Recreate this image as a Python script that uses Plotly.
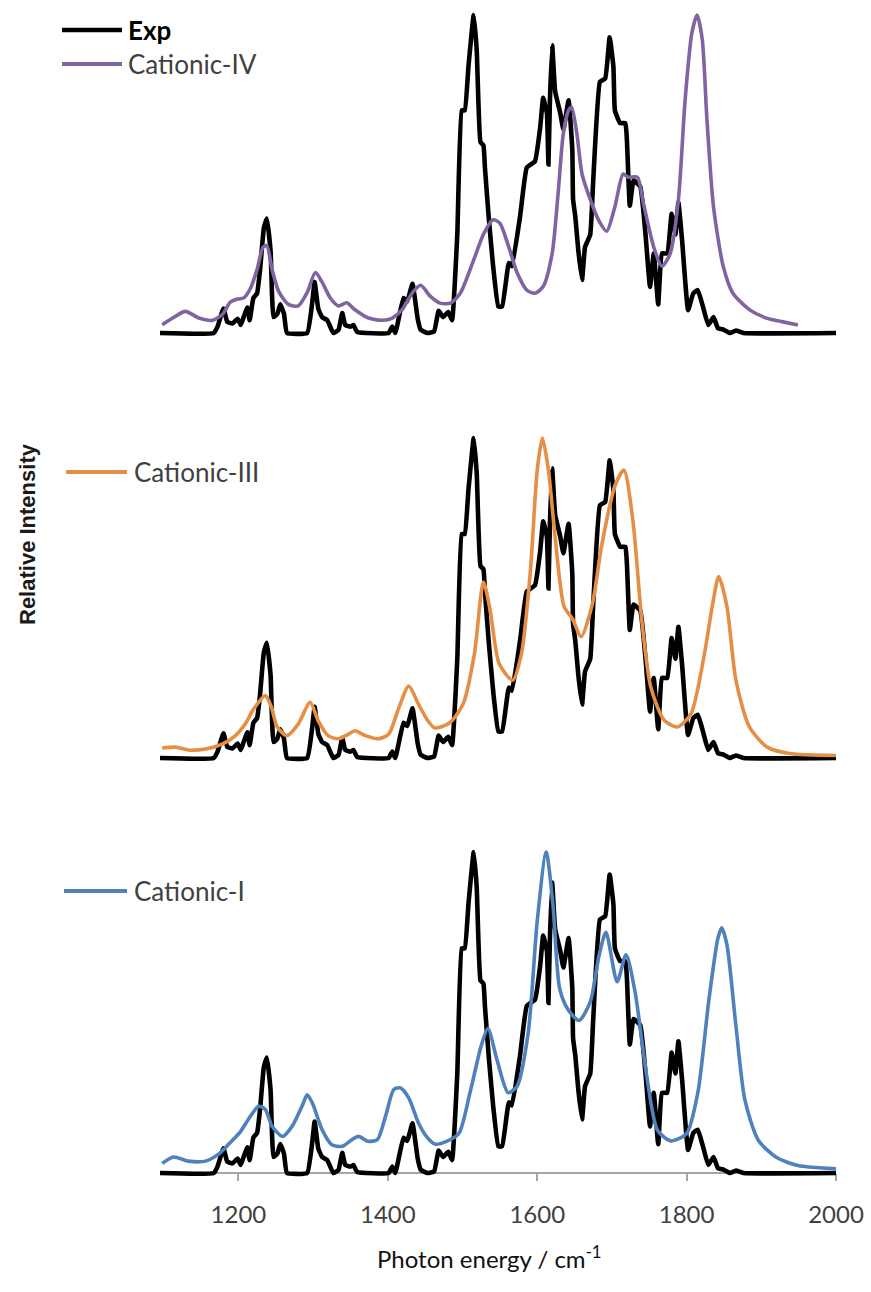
import plotly.graph_objects as go

# ---------------- data ----------------
exp_x = [1095, 1167, 1172, 1180, 1185, 1192, 1199, 1203, 1207, 1212, 1215, 1220, 1225, 1229,
         1234, 1238, 1243, 1247, 1252, 1256, 1261, 1265, 1292, 1299, 1302, 1307, 1312, 1319,
         1327, 1334, 1339, 1343, 1350, 1354, 1359, 1401, 1406, 1410, 1421, 1426, 1433, 1440,
         1444, 1453, 1462, 1468, 1474, 1481, 1486, 1493, 1499, 1503, 1508, 1515, 1519, 1524,
         1528, 1530, 1535, 1541, 1548, 1553, 1562, 1566, 1577, 1586, 1597, 1604, 1608, 1613,
         1615, 1617, 1620, 1624, 1631, 1635, 1642, 1647, 1648, 1651, 1655, 1660, 1664, 1671,
         1675, 1684, 1691, 1697, 1702, 1704, 1711, 1718, 1720, 1724, 1729, 1738, 1745, 1751,
         1756, 1762, 1767, 1774, 1780, 1785, 1789, 1794, 1802, 1809, 1815, 1822, 1829, 1836,
         1842, 1850, 1858, 1866, 1876, 2000]
exp_y = [0, 0, 0.02, 0.077, 0.035, 0.03, 0.045, 0.025, 0.05, 0.08, 0.04, 0.11, 0.125, 0.2,
         0.33, 0.36, 0.26, 0.05, 0.06, 0.09, 0.06, 0.0, 0, 0.1, 0.16, 0.075, 0.05, 0.04,
         0, 0.01, 0.063, 0.025, 0.02, 0.025, 0.003, 0, 0.02, 0, 0.11, 0.10, 0.155, 0.045,
         0.01, 0, 0.005, 0.07, 0.05, 0.066, 0.04, 0.31, 0.70, 0.70, 0.84, 1.0, 0.89, 0.60,
         0.59, 0.52, 0.366, 0.21, 0.083, 0.083, 0.22, 0.21, 0.366, 0.52, 0.54, 0.647, 0.74, 0.69,
         0.53, 0.73, 0.905, 0.76, 0.69, 0.64, 0.732, 0.575, 0.42, 0.366, 0.26, 0.167, 0.27, 0.31,
         0.48, 0.79, 0.80, 0.93, 0.837, 0.70, 0.66, 0.66, 0.61, 0.40, 0.48, 0.46, 0.31, 0.145,
         0.25, 0.09, 0.25, 0.25, 0.375, 0.31, 0.41, 0.29, 0.072, 0.125, 0.135, 0.082, 0.025, 0.05,
         0.015, 0.01, 0.0, 0.008, 0, 0]

c4_x = [1098, 1112, 1129, 1147, 1165, 1179, 1189, 1199, 1207, 1216, 1225, 1233, 1238, 1245,
        1254, 1267, 1280, 1292, 1303, 1312, 1323, 1334, 1345, 1356, 1374, 1393, 1406, 1419,
        1433, 1444, 1457, 1470, 1484, 1497, 1515, 1528, 1541, 1550, 1562, 1573, 1586, 1597,
        1608, 1620, 1628, 1635, 1642, 1646, 1653, 1660, 1671, 1682, 1693, 1704, 1715, 1722,
        1734, 1742, 1756, 1767, 1778, 1789, 1798, 1807, 1814, 1821, 1827, 1836, 1849, 1862,
        1885, 1908, 1929, 1949]
c4_y = [0.026, 0.047, 0.068, 0.047, 0.04, 0.06, 0.097, 0.107, 0.11, 0.14, 0.2, 0.27, 0.275, 0.2,
        0.13, 0.09, 0.085, 0.127, 0.19, 0.16, 0.11, 0.085, 0.095, 0.073, 0.047, 0.04, 0.047, 0.073,
        0.127, 0.15, 0.115, 0.094, 0.094, 0.125, 0.23, 0.31, 0.356, 0.345, 0.27, 0.19, 0.135, 0.125,
        0.146, 0.25, 0.44, 0.628, 0.70, 0.71, 0.628, 0.50, 0.42, 0.356, 0.32, 0.397, 0.50, 0.49,
        0.49, 0.41, 0.27, 0.21, 0.25, 0.418, 0.733, 0.943, 1.0, 0.922, 0.68, 0.397, 0.21, 0.125,
        0.072, 0.046, 0.035, 0.025]

c3_x = [1098, 1116, 1133, 1156, 1179, 1196, 1209, 1220, 1236, 1244, 1252, 1265, 1280, 1296,
        1307, 1320, 1334, 1347, 1356, 1370, 1387, 1401, 1414, 1428, 1441, 1454, 1463, 1483,
        1501, 1516, 1528, 1537, 1549, 1567, 1579, 1591, 1600, 1607, 1615, 1624, 1636, 1647,
        1659, 1674, 1686, 1704, 1716, 1728, 1740, 1752, 1770, 1788, 1806, 1824, 1835, 1843,
        1854, 1866, 1884, 1908, 1938, 2000]
c3_y = [0.031, 0.034, 0.025, 0.028, 0.044, 0.07, 0.106, 0.152, 0.195, 0.16, 0.097, 0.07, 0.106, 0.174,
        0.115, 0.07, 0.06, 0.074, 0.085, 0.07, 0.06, 0.074, 0.152, 0.225, 0.168, 0.115, 0.094, 0.11,
        0.17, 0.327, 0.55, 0.462, 0.295, 0.243, 0.327, 0.588, 0.90, 1.0, 0.90, 0.69, 0.473, 0.436,
        0.379, 0.483, 0.66, 0.85, 0.90, 0.744, 0.43, 0.222, 0.118, 0.097, 0.139, 0.327, 0.483, 0.567,
        0.473, 0.243, 0.097, 0.034, 0.014, 0.008]

c1_x = [1098, 1113, 1133, 1156, 1173, 1187, 1203, 1213, 1227, 1236, 1245, 1259, 1272, 1286,
        1292, 1299, 1312, 1325, 1339, 1352, 1361, 1373, 1386, 1397, 1408, 1417, 1428, 1441,
        1453, 1463, 1477, 1495, 1510, 1525, 1534, 1546, 1561, 1573, 1588, 1600, 1612, 1621,
        1630, 1641, 1656, 1671, 1683, 1692, 1707, 1719, 1731, 1746, 1761, 1779, 1800, 1815,
        1830, 1842, 1847, 1854, 1866, 1878, 1896, 1920, 1949, 2000]
c1_y = [0.03, 0.05, 0.037, 0.037, 0.058, 0.09, 0.13, 0.166, 0.208, 0.198, 0.146, 0.114, 0.146, 0.213,
        0.244, 0.218, 0.135, 0.088, 0.083, 0.104, 0.114, 0.099, 0.104, 0.177, 0.26, 0.265, 0.234, 0.156,
        0.11, 0.09, 0.097, 0.123, 0.25, 0.396, 0.45, 0.354, 0.25, 0.27, 0.438, 0.785, 1.0, 0.837,
        0.575, 0.51, 0.475, 0.533, 0.68, 0.75, 0.596, 0.68, 0.564, 0.312, 0.133, 0.10, 0.123, 0.25,
        0.543, 0.732, 0.764, 0.711, 0.459, 0.228, 0.102, 0.049, 0.023, 0.013]

tick_vals = [1200, 1400, 1600, 1800, 2000]
tick_text = ["1200", "1400", "1600", "1800", "2000"]
names = ["Exp", "Cationic-IV", "Cationic-III", "Cationic-I"]
colors = ["#000000", "#8064A2", "#E58E45", "#4F81BD"]

# ---------------- layout geometry ----------------
W, H = 871, 1292
ML, MR, MT, MB = 160, 35, 0, 110
PW, PH = W - ML - MR, H - MT - MB


def fx(px):
    return (px - ML) / PW


def fy(py):
    return (H - MB - py) / PH


Y_LO, Y_HI = -0.015, 1.035
panels = [(333, 318), (758, 320), (1173, 321)]  # baseline pixel, pixels per unit
domains = [[fy(b - Y_LO * u), fy(b - Y_HI * u)] for b, u in panels]

calc = [(c4_x, c4_y), (c3_x, c3_y), (c1_x, c1_y)]
yrefs = ["y", "y2", "y3"]

fig = go.Figure()
for i, (cx, cy) in enumerate(calc):
    fig.add_trace(go.Scatter(x=exp_x, y=exp_y, mode="lines", name=names[0], yaxis=yrefs[i],
                             line=dict(color=colors[0], width=4.6, shape="spline", smoothing=0.35),
                             showlegend=False))
    fig.add_trace(go.Scatter(x=cx, y=cy, mode="lines", name=names[i + 1], yaxis=yrefs[i],
                             line=dict(color=colors[i + 1], width=3.6, shape="spline", smoothing=0.7),
                             showlegend=False))

yax = dict(range=[Y_LO, Y_HI], visible=False, anchor="x", fixedrange=True)
fig.update_layout(
    width=W, height=H,
    margin=dict(l=ML, r=MR, t=MT, b=MB, autoexpand=False),
    paper_bgcolor="white", plot_bgcolor="white",
    showlegend=False,
    xaxis=dict(range=[1095, 2000], anchor="free", position=fy(1173), automargin=False,
               showline=True, linecolor="#A6A6A6", linewidth=1.5,
               ticks="outside", ticklen=7, tickcolor="#A6A6A6", tickwidth=1.5,
               tickvals=tick_vals, ticktext=tick_text, ticklabelstandoff=13,
               tickfont=dict(family="Lato, Open Sans, sans-serif", size=24, color="#404040"),
               showgrid=False, zeroline=False),
    yaxis=dict(domain=domains[0], **yax),
    yaxis2=dict(domain=domains[1], **yax),
    yaxis3=dict(domain=domains[2], **yax),
)

# legend entries drawn per panel
legend_rows = [
    (names[0], colors[0], 62, 122, 30, 126, True, "#000000"),
    (names[1], colors[1], 62, 122, 64, 126, False, "#404040"),
    (names[2], colors[2], 66, 127, 472, 132, False, "#404040"),
    (names[3], colors[3], 64, 127, 891, 132, False, "#404040"),
]
shapes = []
annotations = []
for name, col, x0, x1, py, tx, bold, tcol in legend_rows:
    shapes.append(dict(type="line", xref="paper", yref="paper", x0=fx(x0), x1=fx(x1),
                       y0=fy(py), y1=fy(py),
                       line=dict(color=col, width=4.5 if bold else 4)))
    annotations.append(dict(xref="paper", yref="paper", x=fx(tx), y=fy(py), xanchor="left",
                            yanchor="middle", showarrow=False,
                            text=f"<b>{name}</b>" if bold else name,
                            font=dict(family="Lato, Open Sans, sans-serif", size=26, color=tcol)))

annotations.append(dict(xref="paper", yref="paper", x=fx(489), y=fy(1257), xanchor="center",
                        yanchor="middle", showarrow=False,
                        text="Photon energy / cm<sup>-1</sup>",
                        font=dict(family="Lato, Open Sans, sans-serif", size=24, color="#111111")))
annotations.append(dict(xref="paper", yref="paper", x=fx(27), y=fy(534), xanchor="center",
                        yanchor="middle", showarrow=False, textangle=-90,
                        text="<b>Relative Intensity</b>",
                        font=dict(family="Liberation Sans, Arial, sans-serif",
                                  size=22, color="#1a1a1a")))

fig.update_layout(shapes=shapes, annotations=annotations)
fig.write_html("out.html", config={"displayModeBar": False},
               post_script="document.body.style.margin='0';document.body.style.overflow='hidden';")
